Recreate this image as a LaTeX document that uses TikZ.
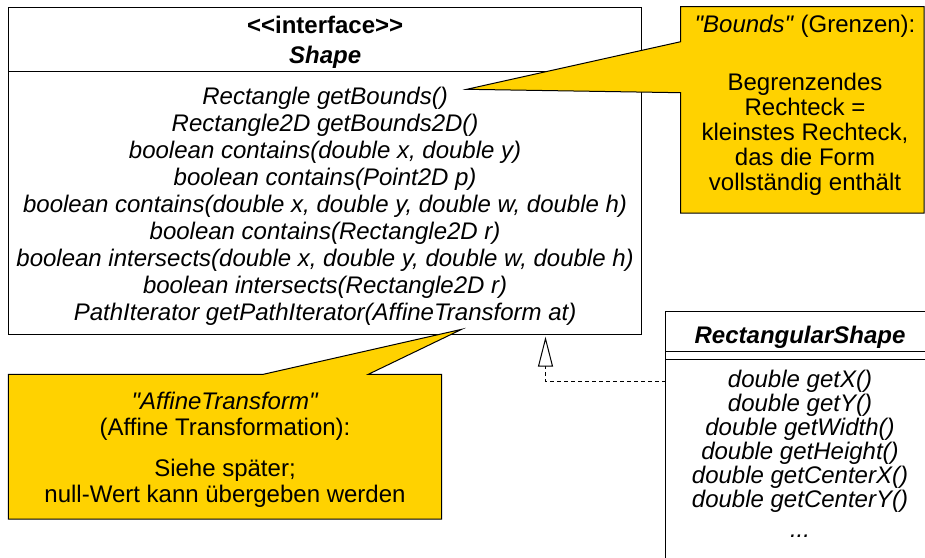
\documentclass[tikz,border=0pt]{standalone}
\usepackage{fontspec}
\setmainfont{Liberation Sans}[Ligatures=TeXOff]
\usetikzlibrary{arrows.meta,calc}
\definecolor{callyellow}{RGB}{255,210,0}
\begin{document}
\begin{tikzpicture}[x=1pt,y=-1pt,
  every node/.style={inner sep=0pt, outer sep=0pt},
  umlbox/.style={draw=black, line width=1pt, fill=white, anchor=north west},
  notebox/.style={anchor=north west},
  noteshape/.style={fill=callyellow, draw=black, line width=1pt, line join=miter},
  txt/.style={align=center, anchor=north, font=\fontsize{24}{27}\selectfont},
  realize/.style={draw=black, line width=1pt, dash pattern=on 4pt off 3pt,
    -{Triangle[open, length=30pt, width=15pt, fill=white]}},
]
\useasboundingbox (0,0) rectangle (925,557);
\clip (0,0) rectangle (925,557);

% Shape interface
\node[umlbox, minimum width=633.2pt, minimum height=63.7pt] (shapehead) at (8.5,7.3) {};
\node[umlbox, minimum width=633.2pt, minimum height=263pt] (shapebody) at (shapehead.south west) {};
\node[txt, font=\fontsize{24}{29.5}\selectfont\bfseries] (shapetitle) at (325.1,16.5)
  {<\kern0pt<interface>\kern0pt>\\\textit{Shape}};
\node[txt, font=\fontsize{24}{27}\selectfont\itshape] (shapeops) at (325.1,86.8)
  {Rectangle getBounds()\\
   Rectangle2D getBounds2D()\\
   boolean contains(double x, double y)\\
   boolean contains(Point2D p)\\
   boolean contains(double x, double y, double w, double h)\\
   boolean contains(Rectangle2D r)\\
   boolean intersects(double x, double y, double w, double h)\\
   boolean intersects(Rectangle2D r)\\
   PathIterator getPathIterator(AffineTransform at)};

% RectangularShape
\node[umlbox, minimum width=268.3pt, minimum height=40pt] (rshead) at (665.7,311.7) {};
\node[umlbox, minimum width=268.3pt, minimum height=7.6pt] (rsattr) at (rshead.south west) {};
\node[umlbox, minimum width=268.3pt, minimum height=240.7pt] (rsops) at (rsattr.south west) {};
\node[txt, font=\fontsize{24}{27}\selectfont\bfseries\itshape] (rstitle) at (800,326.1) {RectangularShape};
\node[txt, font=\fontsize{24}{24}\selectfont\itshape] (rsoptext) at (800,369.8)
  {double getX()\\
   double getY()\\
   double getWidth()\\
   double getHeight()\\
   double getCenterX()\\
   double getCenterY()\\[6pt]
   ...};

% realization arrow
\coordinate (knot) at (545.5,381.7);
\draw[realize, shorten >=2.7pt] (rsops.west |- knot) -- (knot) -- (knot |- shapebody.south);

% Bounds note
\node[notebox, minimum width=243.3pt, minimum height=206.3pt] (bounds) at (680.7,6.7) {};
\coordinate (boundstip) at (466.7,89.3);
\filldraw[noteshape] (bounds.north west) -- (bounds.north east) -- (bounds.south east)
  -- (bounds.south west) -- ($(bounds.north west)+(0,86)$) -- (boundstip)
  -- ($(bounds.north west)+(0,35)$) -- cycle;
\node[txt, font=\fontsize{24}{25}\selectfont] (boundstext) at (805,15)
  {\textit{"Bounds"} (Grenzen):\\[33pt]
   Begrenzendes\\
   Rechteck =\\
   kleinstes Rechteck,\\
   das die Form\\
   vollständig enthält};

% AffineTransform note
\node[notebox, minimum width=433.4pt, minimum height=144.7pt] (affine) at (8.3,374.3) {};
\coordinate (affinetip) at (461.7,329.3);
\filldraw[noteshape] (affine.north west) -- ($(affine.north west)+(255,0)$) -- (affinetip)
  -- ($(affine.north west)+(360,0)$) -- (affine.north east) -- (affine.south east)
  -- (affine.south west) -- cycle;
\node[txt, font=\fontsize{24}{26.5}\selectfont] (affinetext) at (225,391.8)
  {\textit{"AffineTransform"}\\
   (Affine Transformation):\\[14pt]
   Siehe später;\\
   null-Wert kann übergeben werden};
\end{tikzpicture}
\end{document}
